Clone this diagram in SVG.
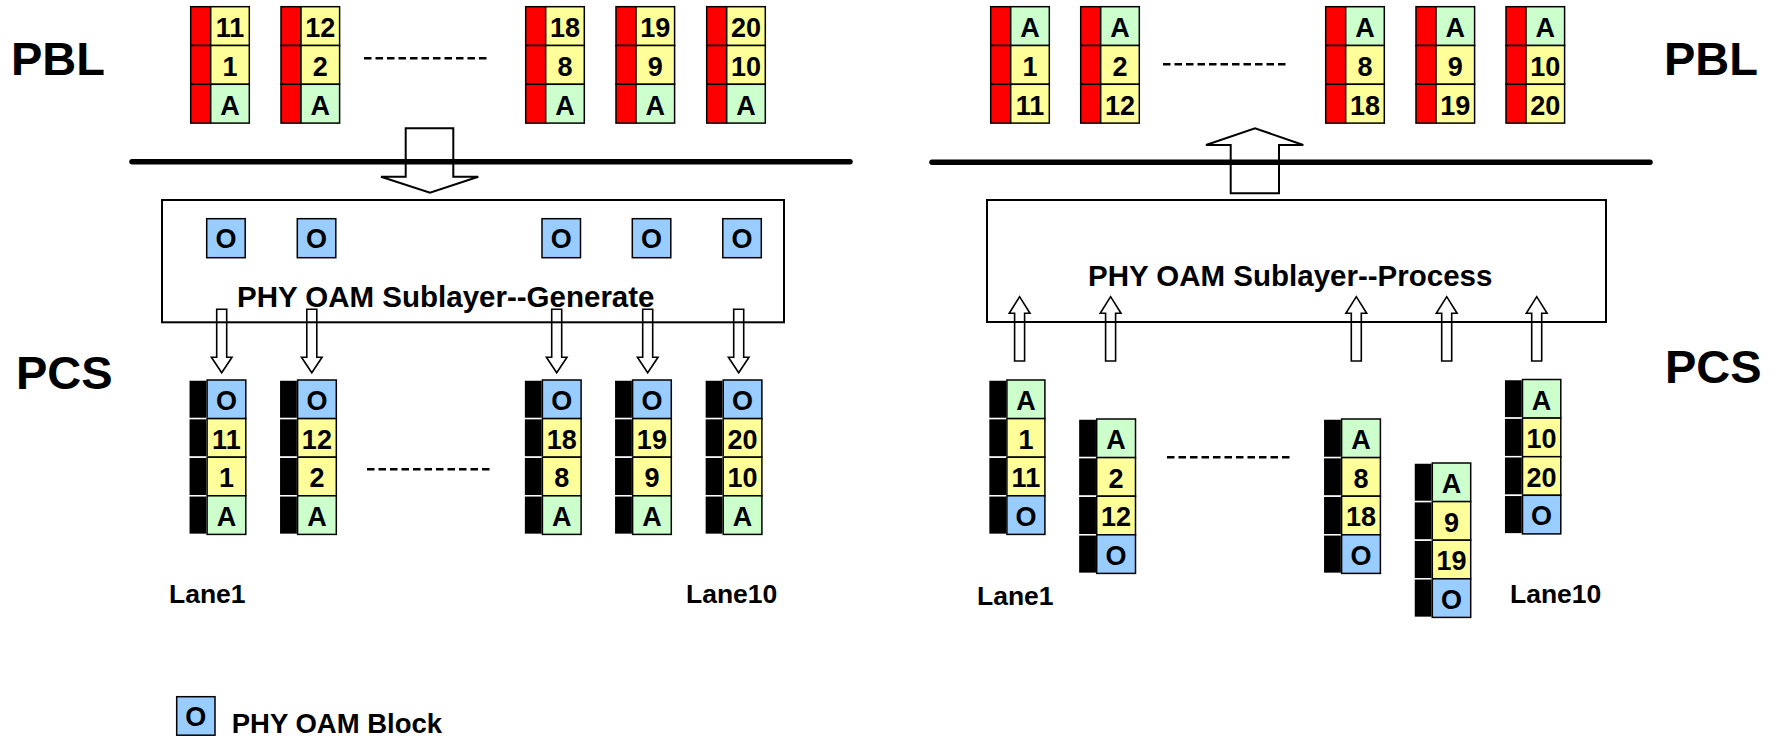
<svg xmlns="http://www.w3.org/2000/svg" width="1781" height="736" viewBox="0 0 1781 736">
<style>
  .t{font-family:"Liberation Sans",Arial,sans-serif;font-weight:bold;fill:#000}
  .big{font-size:47px}
  .lbl{font-size:26.5px}
  .sub{font-size:29.5px}
  .c{font-size:27px;text-anchor:middle}
  .red{fill:#FF0000;stroke:#000;stroke-width:1.5}
  .blk{fill:#000;stroke:#fff;stroke-width:1.5}
  .y{fill:#FFFF99;stroke:#000;stroke-width:1.5}
  .g{fill:#CCFFCC;stroke:#000;stroke-width:1.5}
  .b{fill:#99CCFF;stroke:#000;stroke-width:1.5}
  .box{fill:none;stroke:#000;stroke-width:2}
  .arr{fill:none;stroke:#000;stroke-width:2}
  .sarr{fill:none;stroke:#000;stroke-width:1.6}
  .thick{stroke:#000;stroke-width:5.5;stroke-linecap:round}
  .dash{stroke:#000;stroke-width:2.5;stroke-dasharray:7.5 4}
</style>
<rect width="1781" height="736" fill="#fff"/>

<!-- layer labels -->
<g id="labels">
  <text class="t big" x="11" y="75">PBL</text>
  <text class="t big" x="1664" y="75">PBL</text>
  <text class="t big" x="16" y="389">PCS</text>
  <text class="t big" x="1665" y="383">PCS</text>
  <text class="t lbl" x="169" y="603">Lane1</text>
  <text class="t lbl" x="686" y="603">Lane10</text>
  <text class="t lbl" x="977" y="605">Lane1</text>
  <text class="t lbl" x="1510" y="603">Lane10</text>
</g>

<!-- separator lines and ellipses -->
<g id="lines">
  <line class="thick" x1="132" y1="161.7" x2="850" y2="161.7"/>
  <line class="thick" x1="932" y1="162.3" x2="1650" y2="162.3"/>
  <line class="dash" x1="364" y1="58.3" x2="489" y2="58.3"/>
  <line class="dash" x1="1163" y1="64.3" x2="1288" y2="64.3"/>
  <line class="dash" x1="367" y1="469.3" x2="492" y2="469.3"/>
  <line class="dash" x1="1167" y1="457.3" x2="1291" y2="457.3"/>
</g>

<!-- Left PBL stacks -->
<g id="pbl-left-1" transform="translate(190.7,6.7)">
  <rect class="red" x="0" y="0" width="20" height="38.8"/><rect class="y" x="20" y="0" width="38.6" height="38.8"/><text class="t c" x="39.3" y="30.5">11</text>
  <rect class="red" x="0" y="38.8" width="20" height="38.8"/><rect class="y" x="20" y="38.8" width="38.6" height="38.8"/><text class="t c" x="39.3" y="69.3">1</text>
  <rect class="red" x="0" y="77.6" width="20" height="38.8"/><rect class="g" x="20" y="77.6" width="38.6" height="38.8"/><text class="t c" x="39.3" y="108.1">A</text>
</g>
<g id="pbl-left-2" transform="translate(281,6.7)">
  <rect class="red" x="0" y="0" width="20" height="38.8"/><rect class="y" x="20" y="0" width="38.6" height="38.8"/><text class="t c" x="39.3" y="30.5">12</text>
  <rect class="red" x="0" y="38.8" width="20" height="38.8"/><rect class="y" x="20" y="38.8" width="38.6" height="38.8"/><text class="t c" x="39.3" y="69.3">2</text>
  <rect class="red" x="0" y="77.6" width="20" height="38.8"/><rect class="g" x="20" y="77.6" width="38.6" height="38.8"/><text class="t c" x="39.3" y="108.1">A</text>
</g>
<g id="pbl-left-8" transform="translate(525.7,6.7)">
  <rect class="red" x="0" y="0" width="20" height="38.8"/><rect class="y" x="20" y="0" width="38.6" height="38.8"/><text class="t c" x="39.3" y="30.5">18</text>
  <rect class="red" x="0" y="38.8" width="20" height="38.8"/><rect class="y" x="20" y="38.8" width="38.6" height="38.8"/><text class="t c" x="39.3" y="69.3">8</text>
  <rect class="red" x="0" y="77.6" width="20" height="38.8"/><rect class="g" x="20" y="77.6" width="38.6" height="38.8"/><text class="t c" x="39.3" y="108.1">A</text>
</g>
<g id="pbl-left-9" transform="translate(616,6.7)">
  <rect class="red" x="0" y="0" width="20" height="38.8"/><rect class="y" x="20" y="0" width="38.6" height="38.8"/><text class="t c" x="39.3" y="30.5">19</text>
  <rect class="red" x="0" y="38.8" width="20" height="38.8"/><rect class="y" x="20" y="38.8" width="38.6" height="38.8"/><text class="t c" x="39.3" y="69.3">9</text>
  <rect class="red" x="0" y="77.6" width="20" height="38.8"/><rect class="g" x="20" y="77.6" width="38.6" height="38.8"/><text class="t c" x="39.3" y="108.1">A</text>
</g>
<g id="pbl-left-10" transform="translate(706.7,6.7)">
  <rect class="red" x="0" y="0" width="20" height="38.8"/><rect class="y" x="20" y="0" width="38.6" height="38.8"/><text class="t c" x="39.3" y="30.5">20</text>
  <rect class="red" x="0" y="38.8" width="20" height="38.8"/><rect class="y" x="20" y="38.8" width="38.6" height="38.8"/><text class="t c" x="39.3" y="69.3">10</text>
  <rect class="red" x="0" y="77.6" width="20" height="38.8"/><rect class="g" x="20" y="77.6" width="38.6" height="38.8"/><text class="t c" x="39.3" y="108.1">A</text>
</g>

<!-- Right PBL stacks -->
<g id="pbl-right-1" transform="translate(990.7,6.7)">
  <rect class="red" x="0" y="0" width="20" height="38.8"/><rect class="g" x="20" y="0" width="38.6" height="38.8"/><text class="t c" x="39.3" y="30.5">A</text>
  <rect class="red" x="0" y="38.8" width="20" height="38.8"/><rect class="y" x="20" y="38.8" width="38.6" height="38.8"/><text class="t c" x="39.3" y="69.3">1</text>
  <rect class="red" x="0" y="77.6" width="20" height="38.8"/><rect class="y" x="20" y="77.6" width="38.6" height="38.8"/><text class="t c" x="39.3" y="108.1">11</text>
</g>
<g id="pbl-right-2" transform="translate(1080.7,6.7)">
  <rect class="red" x="0" y="0" width="20" height="38.8"/><rect class="g" x="20" y="0" width="38.6" height="38.8"/><text class="t c" x="39.3" y="30.5">A</text>
  <rect class="red" x="0" y="38.8" width="20" height="38.8"/><rect class="y" x="20" y="38.8" width="38.6" height="38.8"/><text class="t c" x="39.3" y="69.3">2</text>
  <rect class="red" x="0" y="77.6" width="20" height="38.8"/><rect class="y" x="20" y="77.6" width="38.6" height="38.8"/><text class="t c" x="39.3" y="108.1">12</text>
</g>
<g id="pbl-right-8" transform="translate(1325.7,6.7)">
  <rect class="red" x="0" y="0" width="20" height="38.8"/><rect class="g" x="20" y="0" width="38.6" height="38.8"/><text class="t c" x="39.3" y="30.5">A</text>
  <rect class="red" x="0" y="38.8" width="20" height="38.8"/><rect class="y" x="20" y="38.8" width="38.6" height="38.8"/><text class="t c" x="39.3" y="69.3">8</text>
  <rect class="red" x="0" y="77.6" width="20" height="38.8"/><rect class="y" x="20" y="77.6" width="38.6" height="38.8"/><text class="t c" x="39.3" y="108.1">18</text>
</g>
<g id="pbl-right-9" transform="translate(1416,6.7)">
  <rect class="red" x="0" y="0" width="20" height="38.8"/><rect class="g" x="20" y="0" width="38.6" height="38.8"/><text class="t c" x="39.3" y="30.5">A</text>
  <rect class="red" x="0" y="38.8" width="20" height="38.8"/><rect class="y" x="20" y="38.8" width="38.6" height="38.8"/><text class="t c" x="39.3" y="69.3">9</text>
  <rect class="red" x="0" y="77.6" width="20" height="38.8"/><rect class="y" x="20" y="77.6" width="38.6" height="38.8"/><text class="t c" x="39.3" y="108.1">19</text>
</g>
<g id="pbl-right-10" transform="translate(1506,6.7)">
  <rect class="red" x="0" y="0" width="20" height="38.8"/><rect class="g" x="20" y="0" width="38.6" height="38.8"/><text class="t c" x="39.3" y="30.5">A</text>
  <rect class="red" x="0" y="38.8" width="20" height="38.8"/><rect class="y" x="20" y="38.8" width="38.6" height="38.8"/><text class="t c" x="39.3" y="69.3">10</text>
  <rect class="red" x="0" y="77.6" width="20" height="38.8"/><rect class="y" x="20" y="77.6" width="38.6" height="38.8"/><text class="t c" x="39.3" y="108.1">20</text>
</g>

<!-- Sublayer boxes -->
<g id="sublayer-generate">
  <rect class="box" x="162" y="200" width="622" height="122.3"/>
  <rect class="b" x="206.7" y="218.7" width="38.5" height="39"/><text class="t c" x="226" y="248">O</text>
  <rect class="b" x="297.3" y="218.7" width="38.5" height="39"/><text class="t c" x="316.6" y="248">O</text>
  <rect class="b" x="542" y="218.7" width="38.5" height="39"/><text class="t c" x="561.3" y="248">O</text>
  <rect class="b" x="632.3" y="218.7" width="38.5" height="39"/><text class="t c" x="651.6" y="248">O</text>
  <rect class="b" x="722.8" y="218.7" width="38.5" height="39"/><text class="t c" x="742" y="248">O</text>
  <text class="t sub" x="237" y="306.7">PHY OAM Sublayer--Generate</text>
</g>
<g id="sublayer-process">
  <rect class="box" x="987" y="200" width="619" height="122"/>
  <text class="t sub" x="1088" y="286">PHY OAM Sublayer--Process</text>
</g>

<!-- Left lanes -->
<g id="lane-left-1" transform="translate(188.8,380)">
  <rect class="blk" x="0" y="0" width="18.3" height="38.6"/><rect class="b" x="18.3" y="0" width="38.7" height="38.6"/><text class="t c" x="37.6" y="30">O</text>
  <rect class="blk" x="0" y="38.6" width="18.3" height="38.6"/><rect class="y" x="18.3" y="38.6" width="38.7" height="38.6"/><text class="t c" x="37.6" y="68.6">11</text>
  <rect class="blk" x="0" y="77.2" width="18.3" height="38.6"/><rect class="y" x="18.3" y="77.2" width="38.7" height="38.6"/><text class="t c" x="37.6" y="107.2">1</text>
  <rect class="blk" x="0" y="115.8" width="18.3" height="38.6"/><rect class="g" x="18.3" y="115.8" width="38.7" height="38.6"/><text class="t c" x="37.6" y="145.8">A</text>
</g>
<g id="lane-left-2" transform="translate(279.3,380)">
  <rect class="blk" x="0" y="0" width="18.3" height="38.6"/><rect class="b" x="18.3" y="0" width="38.7" height="38.6"/><text class="t c" x="37.6" y="30">O</text>
  <rect class="blk" x="0" y="38.6" width="18.3" height="38.6"/><rect class="y" x="18.3" y="38.6" width="38.7" height="38.6"/><text class="t c" x="37.6" y="68.6">12</text>
  <rect class="blk" x="0" y="77.2" width="18.3" height="38.6"/><rect class="y" x="18.3" y="77.2" width="38.7" height="38.6"/><text class="t c" x="37.6" y="107.2">2</text>
  <rect class="blk" x="0" y="115.8" width="18.3" height="38.6"/><rect class="g" x="18.3" y="115.8" width="38.7" height="38.6"/><text class="t c" x="37.6" y="145.8">A</text>
</g>
<g id="lane-left-8" transform="translate(524.1,380)">
  <rect class="blk" x="0" y="0" width="18.3" height="38.6"/><rect class="b" x="18.3" y="0" width="38.7" height="38.6"/><text class="t c" x="37.6" y="30">O</text>
  <rect class="blk" x="0" y="38.6" width="18.3" height="38.6"/><rect class="y" x="18.3" y="38.6" width="38.7" height="38.6"/><text class="t c" x="37.6" y="68.6">18</text>
  <rect class="blk" x="0" y="77.2" width="18.3" height="38.6"/><rect class="y" x="18.3" y="77.2" width="38.7" height="38.6"/><text class="t c" x="37.6" y="107.2">8</text>
  <rect class="blk" x="0" y="115.8" width="18.3" height="38.6"/><rect class="g" x="18.3" y="115.8" width="38.7" height="38.6"/><text class="t c" x="37.6" y="145.8">A</text>
</g>
<g id="lane-left-9" transform="translate(614.3,380)">
  <rect class="blk" x="0" y="0" width="18.3" height="38.6"/><rect class="b" x="18.3" y="0" width="38.7" height="38.6"/><text class="t c" x="37.6" y="30">O</text>
  <rect class="blk" x="0" y="38.6" width="18.3" height="38.6"/><rect class="y" x="18.3" y="38.6" width="38.7" height="38.6"/><text class="t c" x="37.6" y="68.6">19</text>
  <rect class="blk" x="0" y="77.2" width="18.3" height="38.6"/><rect class="y" x="18.3" y="77.2" width="38.7" height="38.6"/><text class="t c" x="37.6" y="107.2">9</text>
  <rect class="blk" x="0" y="115.8" width="18.3" height="38.6"/><rect class="g" x="18.3" y="115.8" width="38.7" height="38.6"/><text class="t c" x="37.6" y="145.8">A</text>
</g>
<g id="lane-left-10" transform="translate(704.9,380)">
  <rect class="blk" x="0" y="0" width="18.3" height="38.6"/><rect class="b" x="18.3" y="0" width="38.7" height="38.6"/><text class="t c" x="37.6" y="30">O</text>
  <rect class="blk" x="0" y="38.6" width="18.3" height="38.6"/><rect class="y" x="18.3" y="38.6" width="38.7" height="38.6"/><text class="t c" x="37.6" y="68.6">20</text>
  <rect class="blk" x="0" y="77.2" width="18.3" height="38.6"/><rect class="y" x="18.3" y="77.2" width="38.7" height="38.6"/><text class="t c" x="37.6" y="107.2">10</text>
  <rect class="blk" x="0" y="115.8" width="18.3" height="38.6"/><rect class="g" x="18.3" y="115.8" width="38.7" height="38.6"/><text class="t c" x="37.6" y="145.8">A</text>
</g>

<!-- Right lanes -->
<g id="lane-right-1" transform="translate(988.6,380)">
  <rect class="blk" x="0" y="0" width="18.3" height="38.6"/><rect class="g" x="18.3" y="0" width="38" height="38.6"/><text class="t c" x="37.3" y="30">A</text>
  <rect class="blk" x="0" y="38.6" width="18.3" height="38.6"/><rect class="y" x="18.3" y="38.6" width="38" height="38.6"/><text class="t c" x="37.3" y="68.6">1</text>
  <rect class="blk" x="0" y="77.2" width="18.3" height="38.6"/><rect class="y" x="18.3" y="77.2" width="38" height="38.6"/><text class="t c" x="37.3" y="107.2">11</text>
  <rect class="blk" x="0" y="115.8" width="18.3" height="38.6"/><rect class="b" x="18.3" y="115.8" width="38" height="38.6"/><text class="t c" x="37.3" y="145.8">O</text>
</g>
<g id="lane-right-2" transform="translate(1078.4,419)">
  <rect class="blk" x="0" y="0" width="18.3" height="38.6"/><rect class="g" x="18.3" y="0" width="38.8" height="38.6"/><text class="t c" x="37.7" y="30">A</text>
  <rect class="blk" x="0" y="38.6" width="18.3" height="38.6"/><rect class="y" x="18.3" y="38.6" width="38.8" height="38.6"/><text class="t c" x="37.7" y="68.6">2</text>
  <rect class="blk" x="0" y="77.2" width="18.3" height="38.6"/><rect class="y" x="18.3" y="77.2" width="38.8" height="38.6"/><text class="t c" x="37.7" y="107.2">12</text>
  <rect class="blk" x="0" y="115.8" width="18.3" height="38.6"/><rect class="b" x="18.3" y="115.8" width="38.8" height="38.6"/><text class="t c" x="37.7" y="145.8">O</text>
</g>
<g id="lane-right-8" transform="translate(1323.3,419)">
  <rect class="blk" x="0" y="0" width="18.3" height="38.6"/><rect class="g" x="18.3" y="0" width="38.8" height="38.6"/><text class="t c" x="37.7" y="30">A</text>
  <rect class="blk" x="0" y="38.6" width="18.3" height="38.6"/><rect class="y" x="18.3" y="38.6" width="38.8" height="38.6"/><text class="t c" x="37.7" y="68.6">8</text>
  <rect class="blk" x="0" y="77.2" width="18.3" height="38.6"/><rect class="y" x="18.3" y="77.2" width="38.8" height="38.6"/><text class="t c" x="37.7" y="107.2">18</text>
  <rect class="blk" x="0" y="115.8" width="18.3" height="38.6"/><rect class="b" x="18.3" y="115.8" width="38.8" height="38.6"/><text class="t c" x="37.7" y="145.8">O</text>
</g>
<g id="lane-right-9" transform="translate(1414,463)">
  <rect class="blk" x="0" y="0" width="18.3" height="38.6"/><rect class="g" x="18.3" y="0" width="38.4" height="38.6"/><text class="t c" x="37.5" y="30">A</text>
  <rect class="blk" x="0" y="38.6" width="18.3" height="38.6"/><rect class="y" x="18.3" y="38.6" width="38.4" height="38.6"/><text class="t c" x="37.5" y="68.6">9</text>
  <rect class="blk" x="0" y="77.2" width="18.3" height="38.6"/><rect class="y" x="18.3" y="77.2" width="38.4" height="38.6"/><text class="t c" x="37.5" y="107.2">19</text>
  <rect class="blk" x="0" y="115.8" width="18.3" height="38.6"/><rect class="b" x="18.3" y="115.8" width="38.4" height="38.6"/><text class="t c" x="37.5" y="145.8">O</text>
</g>
<g id="lane-right-10" transform="translate(1504.2,379.5)">
  <rect class="blk" x="0" y="0" width="18.3" height="38.6"/><rect class="g" x="18.3" y="0" width="38.3" height="38.6"/><text class="t c" x="37.4" y="30">A</text>
  <rect class="blk" x="0" y="38.6" width="18.3" height="38.6"/><rect class="y" x="18.3" y="38.6" width="38.3" height="38.6"/><text class="t c" x="37.4" y="68.6">10</text>
  <rect class="blk" x="0" y="77.2" width="18.3" height="38.6"/><rect class="y" x="18.3" y="77.2" width="38.3" height="38.6"/><text class="t c" x="37.4" y="107.2">20</text>
  <rect class="blk" x="0" y="115.8" width="18.3" height="38.6"/><rect class="b" x="18.3" y="115.8" width="38.3" height="38.6"/><text class="t c" x="37.4" y="145.8">O</text>
</g>

<!-- Connectors -->
<g id="connectors">
  <path class="arr" d="M405.7,128.3 H453.3 V176.7 H478.3 L430,192.7 L381,176.7 H405.7 Z"/>
  <path class="arr" d="M1230.7,193.3 H1279 V145 H1303.3 L1255,128.3 L1206,145 H1230.7 Z"/>
  <path class="sarr" d="M216.7,309.3 H226.7 V357.3 H232 L221.7,372.7 L211.4,357.3 H216.7 Z"/>
  <path class="sarr" d="M306.8,309.3 H316.8 V357.3 H322.1 L311.8,372.7 L301.5,357.3 H306.8 Z"/>
  <path class="sarr" d="M551.7,309.3 H561.7 V357.3 H567 L556.7,372.7 L546.4,357.3 H551.7 Z"/>
  <path class="sarr" d="M642.7,309.3 H652.7 V357.3 H658 L647.7,372.7 L637.4,357.3 H642.7 Z"/>
  <path class="sarr" d="M733.7,309.3 H743.7 V357.3 H749 L738.7,372.7 L728.4,357.3 H733.7 Z"/>
  <path class="sarr" d="M1014.6,361 H1024.6 V313.3 H1030 L1019.6,296.7 L1009.2,313.3 H1014.6 Z"/>
  <path class="sarr" d="M1105.6,361 H1115.6 V313.3 H1121 L1110.6,296.7 L1100.2,313.3 H1105.6 Z"/>
  <path class="sarr" d="M1351.3,361 H1361.3 V313.3 H1366.7 L1356.3,296.7 L1345.9,313.3 H1351.3 Z"/>
  <path class="sarr" d="M1441.7,361 H1451.7 V313.3 H1457.1 L1446.7,296.7 L1436.3,313.3 H1441.7 Z"/>
  <path class="sarr" d="M1531.7,361 H1541.7 V313.3 H1547.1 L1536.7,296.7 L1526.3,313.3 H1531.7 Z"/>
</g>

<!-- Legend -->
<g id="legend">
  <rect class="b" x="176.7" y="696.7" width="38.3" height="38.5"/><text class="t c" x="195.8" y="726">O</text>
  <text class="t lbl" x="231.7" y="733" style="font-size:27.5px">PHY OAM Block</text>
</g>
</svg>
